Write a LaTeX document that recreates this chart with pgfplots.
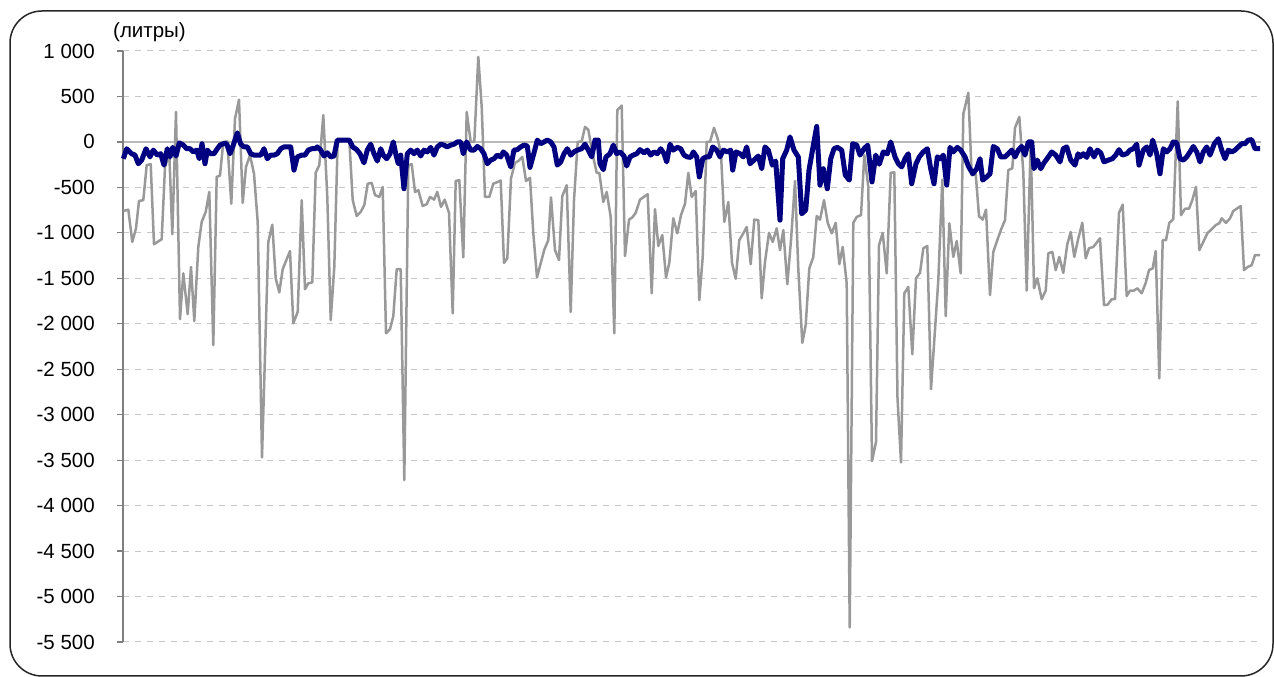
\documentclass[border=0pt]{standalone}
\usepackage{pgfplots}
\pgfplotsset{compat=1.18}
\usepackage{fontspec}
\setmainfont{Liberation Sans}
\definecolor{navyc}{RGB}{0,0,128}
\definecolor{grayc}{RGB}{153,153,153}
\definecolor{gridc}{RGB}{200,200,200}
\definecolor{zeroc}{RGB}{185,185,185}
\definecolor{axisc}{RGB}{128,128,128}
\begin{document}
\begin{tikzpicture}[x=1pt,y=1pt]
\useasboundingbox (0,0) rectangle (1274,677);
\draw[line width=1.5pt, rounded corners=32pt, black!85] (10,1) rectangle (1273,666);
\begin{axis}[
  scale only axis, width=1138pt, height=591pt,
  at={(123pt,35pt)}, anchor=south west,
  xmin=123, xmax=1261, ymin=-5500, ymax=1000,
  axis y line*=left, axis x line*=middle,
  x axis line style={draw=zeroc, line width=1.5pt, -},
  y axis line style={draw=axisc, line width=1.3pt, -},
  xtick=\empty,
  ytick={-5500,-5000,-4500,-4000,-3500,-3000,-2500,-2000,-1500,-1000,-500,0,500,1000},
  yticklabels={{-5 500},{-5 000},{-4 500},{-4 000},{-3 500},{-3 000},{-2 500},{-2 000},{-1 500},{-1 000},{-500},{0},{500},{1 000}},
  tick align=outside, major tick length=6pt,
  y tick style={draw=axisc, line width=1.2pt},
  yticklabel style={font=\fontsize{20.5}{20.5}\selectfont, inner sep=0pt, anchor=east},
  yticklabel shift=22pt,
  ymajorgrids, major grid style={draw=gridc, line width=1pt, dash pattern=on 6pt off 6pt},
  clip=false,
]
\addplot[grayc, line width=2.5pt, line join=round] coordinates {
(123.3,-760)(128.3,-745)(132.3,-1100)(136,-950)(139,-650)(143.3,-640)(146.7,-255)(150.7,-245)(154,-1125)(161.7,-1070)(165,-275)(169.3,-130)(172.3,-1015)(176,330)(180,-1950)(183.3,-1445)(187.7,-1895)(191,-1375)(194.3,-1970)(198.3,-1155)(201.7,-880)(205.7,-770)(209.3,-550)(213.3,-2235)(216.7,-385)(220,-370)(223.3,0)(227.3,5)(231.3,-680)(235,255)(239,465)(242.7,-670)(246,-275)(250,-145)(254,-350)(257.7,-880)(262,-3470)(268.3,-1100)(272.3,-910)(275.7,-1500)(279.3,-1655)(282.7,-1400)(290,-1200)(293.3,-1995)(297.7,-1870)(301.7,-640)(305,-1620)(308.3,-1555)(312.3,-1545)(315.7,-340)(319.3,-255)(323.3,295)(327.3,-605)(330.7,-1960)(334.3,-1375)(337.7,20)(349.3,20)(352.7,-640)(356.7,-815)(360.7,-770)(364.3,-695)(367.7,-460)(371.7,-450)(375,-585)(379.3,-605)(382.7,-495)(386,-2105)(390,-2060)(393.3,-1915)(396.7,-1400)(400.7,-1400)(404.3,-3720)(408.3,-255)(411.7,-245)(415,-550)(418.3,-530)(422.7,-705)(426.7,-685)(430,-605)(434,-635)(437.3,-550)(441,-715)(444.7,-635)(449,-780)(452.7,-1885)(455.7,-430)(459.3,-420)(463.3,-1270)(466.7,330)(470.7,0)(474.3,0)(478.3,935)(481.7,385)(485,-605)(489.3,-605)(493.3,-460)(497.7,-440)(500.7,-425)(504,-1330)(507.3,-1280)(511,-400)(515,-230)(518.3,-210)(522.3,-165)(526,-430)(530,-395)(533.3,-1005)(537,-1490)(540.7,-1335)(544.3,-1185)(548.3,-1080)(551,-610)(555,-1190)(559,-1300)(562.3,-595)(566.7,-475)(570.7,-1870)(574,-640)(577.7,0)(581.7,5)(585,165)(588.3,135)(592.3,-120)(596.7,-340)(599.3,-340)(603.3,-660)(606.7,-550)(610.7,-825)(614.3,-2105)(617.3,350)(621.7,400)(625,-1255)(629,-855)(632.3,-830)(635.7,-780)(640,-635)(647.7,-575)(651.7,-1665)(655,-740)(658.3,-1145)(662.3,-1025)(666,-1490)(669.3,-1330)(673.3,-840)(677.3,-1005)(681,-805)(685,-680)(688.3,-340)(691.7,-605)(695.7,-540)(699.3,-1740)(702.7,-1265)(706.7,0)(710,0)(714,155)(717.7,35)(721,-130)(724.3,-880)(728.3,-660)(732,-1330)(735.7,-1505)(739.3,-1080)(743.3,-1005)(746.7,-935)(750.7,-1345)(754.3,-855)(758.3,-860)(761.7,-1720)(765,-1320)(769,-1000)(772.7,-1100)(776.7,-950)(780,-1190)(783.3,-970)(787.3,-1565)(791,-1080)(795,-430)(798.3,-1400)(802.3,-2210)(805.7,-2015)(809.3,-1390)(813.3,-1265)(816.7,-815)(820,-855)(824,-640)(827.7,-890)(831.7,-1005)(835.7,-890)(839.3,-1345)(842.7,-1155)(846.7,-1555)(849.7,-5340)(853.3,-890)(856.7,-825)(861,-805)(864.3,-145)(868.3,-495)(872,-3510)(876,-3300)(879,-1135)(882.7,-1000)(886.7,-1445)(890.7,-340)(894.3,-335)(897.5,-2820)(901,-3525)(904.3,-1665)(908.3,-1595)(912.3,-2335)(916,-1500)(920,-1440)(923.3,-1170)(927.3,-1145)(931,-2720)(934.3,-2180)(938.3,-1520)(942.3,-415)(945.7,-1915)(949.3,-895)(953.3,-1265)(956.7,-1090)(960.7,-1445)(963.3,305)(968.3,540)(971.7,-365)(975.7,-355)(979,-815)(982.7,-855)(986,-745)(990,-1685)(993.3,-1210)(997.3,-1080)(1001,-965)(1005,-860)(1008.3,-310)(1012.3,-290)(1015,155)(1019.3,275)(1023.3,-330)(1026.7,-1635)(1030.7,0)(1034,-1610)(1037.3,-1500)(1041.7,-1730)(1045.7,-1635)(1048.3,-1225)(1052.3,-1210)(1055.7,-1410)(1059.3,-1265)(1063.3,-1440)(1067.3,-1125)(1070.7,-990)(1074.3,-1265)(1078.3,-1060)(1082.3,-890)(1085.7,-1280)(1089,-1170)(1093.3,-1155)(1100,-1060)(1104,-1795)(1107.7,-1790)(1111.7,-1730)(1115,-1730)(1119,-780)(1122.7,-690)(1126.7,-1695)(1130,-1635)(1134,-1635)(1137.3,-1610)(1141.7,-1665)(1145.7,-1550)(1149,-1410)(1152.7,-1390)(1155.7,-1200)(1159.3,-2600)(1162.7,-1080)(1166,-1080)(1169.3,-890)(1173.3,-850)(1177.7,445)(1181,-805)(1185,-735)(1189,-735)(1192.3,-640)(1196,-495)(1199.3,-1190)(1203.3,-1100)(1207.3,-1005)(1211.7,-960)(1215.7,-915)(1219.3,-895)(1221.7,-840)(1226,-890)(1230,-840)(1233.3,-760)(1240.7,-705)(1244,-1410)(1247.7,-1375)(1251.7,-1355)(1255,-1245)(1260,-1245)
};
\addplot[navyc, line width=5pt, line join=round] coordinates {
(123.3,-185)(126.7,-75)(131.7,-130)(135,-145)(138.3,-240)(141.7,-200)(146,-75)(150,-165)(153.3,-90)(157.3,-145)(160.7,-130)(164,-255)(167.3,-75)(170,-165)(172.7,-60)(176,-155)(179.3,-10)(183.3,-35)(186.7,-75)(190,-75)(193.3,-110)(196.7,-90)(199.3,-185)(202,-20)(205,-240)(207.3,-90)(210.7,-130)(214,-130)(217.3,-75)(220,-35)(223.3,-20)(226.7,-20)(230,-130)(233.3,-35)(237.3,100)(240.7,-25)(244,-55)(247.3,-55)(250.7,-130)(254,-145)(257.3,-145)(260.7,-145)(264,-75)(267.3,-185)(270.7,-145)(274,-145)(277.3,-130)(280.7,-75)(284,-55)(287.3,-55)(290.7,-55)(294,-310)(297.3,-165)(301.7,-145)(305,-145)(308.3,-90)(311.7,-75)(315,-75)(317.3,-55)(320.7,-90)(324,-155)(327.3,-120)(330.7,-165)(334,-155)(337.3,20)(349.3,20)(352.7,-55)(356.7,-85)(360,-130)(364,-230)(367.3,-90)(370.7,-25)(374,-130)(377.3,-210)(380.7,-75)(383.3,-145)(386.7,-185)(390,-130)(393.3,0)(396,-145)(398.3,-240)(400.7,-145)(404,-515)(407.3,-130)(410.7,-90)(414,-130)(417.3,-90)(420.7,-155)(424,-90)(427.3,-110)(430.7,-60)(434,-145)(437.3,-55)(440.7,-25)(444,-35)(447.3,-55)(450.7,-35)(454,-25)(457.3,0)(460.7,0)(463.3,-130)(466.7,0)(470.7,-90)(474,-90)(477.3,-50)(480.7,-75)(484,-130)(487.3,-240)(490.7,-200)(494,-185)(497.3,-145)(500.7,-165)(503.3,-110)(506.7,-145)(510.7,-275)(514,-90)(517.3,-85)(520.7,-55)(524,-35)(527.3,-45)(530,-280)(534,-120)(537.3,20)(540.7,-20)(544,0)(547.3,20)(550.7,0)(554,-55)(557.3,-255)(560.7,-220)(564,-130)(567.3,-75)(570.7,-145)(574,-110)(577.3,-90)(581.7,-75)(585,-25)(588.3,-90)(591.7,-165)(595,20)(598.3,20)(600,-240)(603.3,-305)(606,-165)(610,-130)(613.3,-35)(616.7,-130)(620,-110)(624,-155)(626.7,-265)(630,-165)(633.3,-145)(636.7,-130)(640,-85)(644,-120)(647.3,-90)(650.7,-145)(654,-110)(657.3,-130)(660.7,-75)(664,-130)(666.7,-220)(670,-25)(673.3,-90)(677.3,-60)(680.7,-75)(684,-145)(687.3,-165)(690.7,-170)(693.3,-110)(696.7,-165)(699.3,-385)(702.7,-185)(706,-165)(709.3,-165)(712.7,-55)(716.7,-90)(720,-165)(723.3,-90)(727.3,-110)(730.7,-90)(732.7,-310)(736,-110)(740,-130)(743.3,-165)(746.7,-55)(750,-240)(754,-200)(758.3,-155)(761.7,-295)(765,-55)(768.3,-90)(772.3,-255)(775.7,-210)(780,-860)(782.7,-185)(786.7,-90)(790,55)(794,-90)(798.3,-165)(801.7,-790)(805.7,-750)(809,-310)(812.7,-75)(816.7,170)(820,-475)(823.3,-295)(827.3,-515)(830.7,-185)(834,-75)(837.3,-60)(841.7,-90)(845.3,-365)(849.3,-420)(852.7,-20)(856.7,-35)(860,-145)(864,-75)(867.7,-35)(872,-440)(875.7,-145)(879.3,-245)(883.3,-110)(887.3,-130)(890.7,0)(895,-165)(898.3,-240)(901.7,-275)(905,-185)(908.3,-130)(911.7,-460)(916,-240)(919.3,-165)(923.3,-110)(927.3,-75)(930.7,-295)(934,-460)(937.3,-165)(940.7,-185)(943.3,-145)(946.7,-475)(950,-60)(953.3,-110)(957.3,-60)(960.7,-90)(965,-165)(968.3,-265)(972.7,-350)(976.7,-295)(980,-185)(982.7,-420)(986.7,-385)(990,-350)(993.3,-50)(997.3,-75)(1000.7,-165)(1005,-165)(1008.3,-130)(1011.7,-90)(1015,-165)(1018.3,-90)(1021.7,-50)(1025,-145)(1028.3,0)(1031.7,0)(1034,-295)(1037.3,-200)(1040.7,-295)(1044,-230)(1048.3,-165)(1051.7,-110)(1055.7,-145)(1060,-220)(1063.3,-75)(1066.7,-55)(1070.7,-200)(1075,-255)(1078,-130)(1080,-165)(1083.3,-130)(1086.7,-170)(1090,-75)(1094,-165)(1097.3,-90)(1100.7,-120)(1104,-220)(1108.3,-200)(1112.3,-185)(1115.7,-145)(1119,-85)(1122.3,-145)(1126.7,-130)(1130,-90)(1133.3,-75)(1136.7,-25)(1139,-255)(1143.3,-90)(1146.7,-55)(1150,-145)(1152.7,20)(1156.7,-130)(1160,-350)(1163.3,-75)(1166.7,-110)(1170,-75)(1173.3,0)(1176.7,-10)(1180,-185)(1183.3,-200)(1186.7,-165)(1190,-110)(1193.3,-50)(1196.7,-110)(1200,-220)(1203.3,-110)(1206.7,-55)(1210,-145)(1214.3,-20)(1218.3,35)(1221.7,-90)(1225,-185)(1228.3,-90)(1231.7,-110)(1235,-90)(1238.3,-55)(1241.7,-20)(1245,-20)(1248.3,20)(1251.7,25)(1255,-75)(1260,-75)
};
\end{axis}
\node[font=\fontsize{20.5}{20.5}\selectfont, inner sep=0pt] at (149.5,645) {(литры)};
\end{tikzpicture}
\end{document}
